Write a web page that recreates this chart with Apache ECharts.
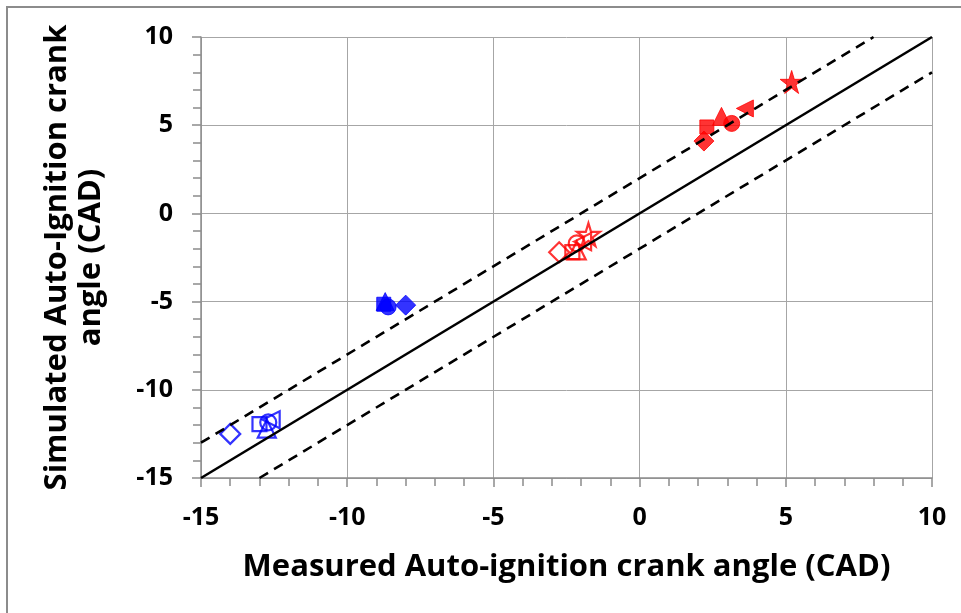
<!DOCTYPE html>
<html>
<head>
<meta charset="utf-8">
<script src="https://cdn.jsdelivr.net/npm/echarts@6/dist/echarts.min.js"></script>
<style>
  html, body { margin: 0; padding: 0; background: #ffffff; }
  #chart { width: 961px; height: 613px; }
</style>
</head>
<body>
<div id="chart"></div>
<script>
// Marker shapes shared by every group (one point per shape)
const shapes = ['diamond', 'square', 'triangle', 'circle', 'lefttri', 'star'];

// Blue, open markers
const blueOpenX = [-14.0, -13.0, -12.75, -12.7, -12.6];
const blueOpenY = [-12.5, -11.95, -12.2, -11.85, -11.7];
// Blue, filled markers
const blueFilledX = [-8.0, -8.75, -8.7, -8.6];
const blueFilledY = [-5.2, -5.15, -5.0, -5.3];
const blueFilledShapes = ['diamond', 'square', 'triangle', 'circle'];
// Red, open markers
const redOpenX = [-2.75, -2.3, -2.15, -2.15, -1.95, -1.75];
const redOpenY = [-2.2, -2.2, -2.1, -1.7, -1.6, -1.2];
// Red, filled markers
const redFilledX = [2.2, 2.3, 2.8, 3.15, 3.6, 5.2];
const redFilledY = [4.1, 4.9, 5.5, 5.1, 5.95, 7.45];

// Reference lines: y = x and the +/- 2 CAD band
const parityLine = [[-15, -15], [10, 10]];
const upperBand = [[-15, -13], [8, 10]];
const lowerBand = [[-13, -15], [10, 8]];

const STAR = 'path://M50,0 L61,35 L98,35 L68,57 L79,91 L50,70 L21,91 L32,57 L2,35 L39,35 Z';

function symbolFor(name) {
  if (name === 'star') return { symbol: STAR, symbolSize: 23, symbolRotate: 0 };
  if (name === 'lefttri') return { symbol: 'triangle', symbolSize: 17, symbolRotate: 90 };
  if (name === 'diamond') return { symbol: 'diamond', symbolSize: 20, symbolRotate: 0 };
  if (name === 'square') return { symbol: 'rect', symbolSize: 14, symbolRotate: 0 };
  if (name === 'triangle') return { symbol: 'triangle', symbolSize: 18, symbolRotate: 0 };
  return { symbol: 'circle', symbolSize: 16, symbolRotate: 0 };
}

function points(xs, ys, names) {
  return xs.map((x, i) => {
    const s = symbolFor(names[i]);
    return { value: [x, ys[i]], symbol: s.symbol, symbolSize: s.symbolSize, symbolRotate: s.symbolRotate };
  });
}

function scatter(xs, ys, names, color, open) {
  return {
    type: 'scatter',
    z: 2,
    data: points(xs, ys, names),
    itemStyle: open
      ? { color: 'rgba(0,0,0,0)', borderColor: color, borderWidth: 2.2 }
      : { color: color, borderColor: color, borderWidth: 1 },
    emphasis: { disabled: true }
  };
}

function refLine(data, dashed) {
  return {
    type: 'line',
    z: 5,
    data: data,
    symbol: 'none',
    lineStyle: { color: '#000000', width: 2.6, type: dashed ? [10, 7] : 'solid' },
    emphasis: { disabled: true }
  };
}

const chart = echarts.init(document.getElementById('chart'), null, { renderer: 'canvas' });
const FONT = 'Open Sans';
const labelFont = { fontFamily: FONT, fontWeight: 'bold', fontSize: 25, color: '#000000' };
const axisGray = '#8c8c8c';

chart.setOption({
  animation: false,
  backgroundColor: '#ffffff',
  grid: { left: 201, right: 29, top: 37, bottom: 135, outerBoundsMode: 'none', containLabel: false },
  xAxis: {
    type: 'value',
    min: -15, max: 10, interval: 5,
    name: 'Measured Auto-ignition crank angle (CAD)',
    nameLocation: 'middle',
    nameGap: 74,
    nameTextStyle: { fontFamily: FONT, fontWeight: 'bold', fontSize: 31, color: '#000000' },
    axisLine: { onZero: false, lineStyle: { color: axisGray, width: 1.5 } },
    axisTick: { show: true, length: 9, lineStyle: { color: axisGray, width: 1.5 } },
    minorTick: { show: true, splitNumber: 5, length: 8, lineStyle: { color: axisGray, width: 1.5 } },
    axisLabel: Object.assign({ margin: 27, formatter: v => String(v) }, labelFont),
    splitLine: { show: true, lineStyle: { color: '#a6a6a6', width: 1 } }
  },
  yAxis: {
    type: 'value',
    min: -15, max: 10, interval: 5,
    name: 'Simulated Auto-Ignition crank\nangle (CAD)',
    nameLocation: 'middle',
    nameGap: 93,
    nameTextStyle: { fontFamily: FONT, fontWeight: 'bold', fontSize: 31, color: '#000000', lineHeight: 34 },
    axisLine: { onZero: false, lineStyle: { color: axisGray, width: 1.5 } },
    axisTick: { show: true, length: 9, lineStyle: { color: axisGray, width: 1.5 } },
    minorTick: { show: true, splitNumber: 5, length: 8, lineStyle: { color: axisGray, width: 1.5 } },
    axisLabel: Object.assign({ margin: 28, formatter: v => String(v) }, labelFont),
    splitLine: { show: true, lineStyle: { color: '#a6a6a6', width: 1 } }
  },
  graphic: [{
    type: 'rect',
    shape: { x: 7, y: 7, width: 1000, height: 1000 },
    style: { fill: 'none', stroke: axisGray, lineWidth: 2 },
    silent: true
  }],
  series: [
    scatter(blueOpenX, blueOpenY, shapes, '#0000ff', true),
    scatter(blueFilledX, blueFilledY, blueFilledShapes, '#0000ff', false),
    scatter(redOpenX, redOpenY, shapes, '#ff0000', true),
    scatter(redFilledX, redFilledY, shapes, '#ff0000', false),
    refLine(parityLine, false),
    refLine(upperBand, true),
    refLine(lowerBand, true)
  ]
});
</script>
</body>
</html>
